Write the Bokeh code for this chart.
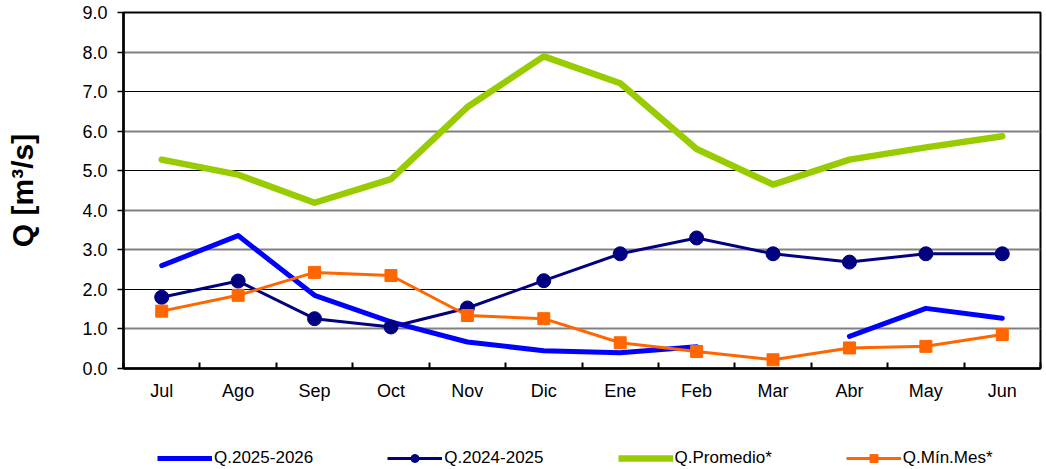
import math
from bokeh.plotting import figure
from bokeh.layouts import column
from bokeh.models import Range1d, FixedTicker, Grid, Legend, LegendItem, PrintfTickFormatter
from bokeh.embed import file_html
from bokeh.resources import INLINE

nan = float("nan")

months = ["Jul", "Ago", "Sep", "Oct", "Nov", "Dic", "Ene", "Feb", "Mar", "Abr", "May", "Jun"]
q_2025_2026 = [2.60, 3.36, 1.85, 1.18, 0.67, 0.45, 0.40, 0.55, nan, 0.81, 1.52, 1.27]
q_2024_2025 = [1.80, 2.21, 1.26, 1.05, 1.53, 2.22, 2.90, 3.30, 2.90, 2.69, 2.90, 2.90]
q_promedio = [5.28, 4.90, 4.19, 4.79, 6.61, 7.89, 7.21, 5.55, 4.65, 5.28, 5.59, 5.87]
q_min_mes = [1.45, 1.85, 2.43, 2.35, 1.34, 1.26, 0.65, 0.43, 0.22, 0.52, 0.56, 0.86]
series_labels = ["Q.2025-2026", "Q.2024-2025", "Q.Promedio*", "Q.Mín.Mes*"]
y_ticks = [0, 1, 2, 3, 4, 5, 6, 7, 8, 9]

n = len(months)
x_centers = [i + 0.5 for i in range(n)]
x_bounds = [float(i) for i in range(n + 1)]

FONT = "Liberation Sans"
W = 1044

p = figure(width=W, height=420, x_range=Range1d(0, n), y_range=Range1d(y_ticks[0], y_ticks[-1]),
           output_backend="svg", toolbar_location=None,
           min_border_left=123, min_border_right=4, min_border_top=12, min_border_bottom=52)

p.xgrid.visible = False
p.ygrid.visible = False
p.outline_line_color = "black"
p.outline_line_width = 2
p.background_fill_color = "white"
p.border_fill_color = "white"

gray_lines = [1, 3, 4, 6, 8]
dark_lines = [2, 5, 7]
p.add_layout(Grid(dimension=1, ticker=FixedTicker(ticks=gray_lines), grid_line_color="#808080", grid_line_width=2))
p.add_layout(Grid(dimension=1, ticker=FixedTicker(ticks=dark_lines), grid_line_color="black", grid_line_width=1.2))

# x axis
xa = p.xaxis[0]
xa.ticker = FixedTicker(ticks=x_centers, minor_ticks=x_bounds)
xa.major_label_overrides = {c: m for c, m in zip(x_centers, months)}
xa.major_tick_in = 0
xa.major_tick_out = 0
xa.minor_tick_in = 6
xa.minor_tick_out = 0
xa.minor_tick_line_color = "black"
xa.minor_tick_line_width = 2
xa.axis_line_color = "black"
xa.axis_line_width = 2.5
xa.major_label_standoff = 12
xa.major_label_text_font = FONT
xa.major_label_text_font_size = "18px"
xa.major_label_text_color = "black"

# y axis
ya = p.yaxis[0]
ya.ticker = FixedTicker(ticks=y_ticks, minor_ticks=[])
ya.formatter = PrintfTickFormatter(format="%.1f")
ya.major_tick_in = 0
ya.major_tick_out = 6
ya.major_tick_line_width = 1.5
ya.major_tick_line_color = "black"
ya.axis_line_color = "black"
ya.axis_line_width = 2.5
ya.major_label_standoff = 10
ya.major_label_text_font = FONT
ya.major_label_text_font_size = "18px"
ya.major_label_text_color = "black"
ya.axis_label = "Q [m³/s]"
ya.axis_label_text_font = FONT
ya.axis_label_text_font_size = "30px"
ya.axis_label_text_font_style = "bold"
ya.axis_label_text_color = "black"
ya.axis_label_standoff = 40

blue = "#0000FF"
navy = "#000080"
green = "#99CC00"
orange = "#FF6600"

p.line(x_centers, q_2025_2026, line_color=blue, line_width=5, line_join="round", line_cap="round")
p.line(x_centers, q_2024_2025, line_color=navy, line_width=3)
p.scatter(x_centers, q_2024_2025, marker="circle", size=14, fill_color=navy, line_color=navy)
p.line(x_centers, q_promedio, line_color=green, line_width=6.5, line_join="round", line_cap="round")
p.line(x_centers, q_min_mes, line_color=orange, line_width=3)
p.scatter(x_centers, q_min_mes, marker="square", size=12, fill_color=orange, line_color=orange)

# legend strip below the chart (same styles, no visible data)
lf = figure(width=W, height=49, x_range=Range1d(0, 1), y_range=Range1d(0, 1),
            output_backend="svg", toolbar_location=None,
            min_border_left=0, min_border_right=0, min_border_top=0, min_border_bottom=0)
lf.axis.visible = False
lf.grid.visible = False
lf.outline_line_color = None
lf.background_fill_color = "white"
lf.border_fill_color = "white"

l_blue = lf.line([nan], [nan], line_color=blue, line_width=5)
l_navy = lf.line([nan], [nan], line_color=navy, line_width=3)
m_navy = lf.scatter([nan], [nan], marker="circle", size=9, fill_color=navy, line_color=navy)
l_green = lf.line([nan], [nan], line_color=green, line_width=6.5)
l_orange = lf.line([nan], [nan], line_color=orange, line_width=3)
m_orange = lf.scatter([nan], [nan], marker="square", size=10, fill_color=orange, line_color=orange)

legend = Legend(items=[
    LegendItem(label=series_labels[0], renderers=[l_blue]),
    LegendItem(label=series_labels[1], renderers=[l_navy, m_navy]),
    LegendItem(label=series_labels[2], renderers=[l_green]),
    LegendItem(label=series_labels[3], renderers=[l_orange, m_orange]),
], orientation="horizontal", location=(34, 1))
legend.glyph_width = 55
legend.glyph_height = 20
legend.label_height = 20
legend.label_standoff = 2
legend.spacing = 74
legend.padding = 0
legend.margin = 0
legend.border_line_alpha = 0
legend.background_fill_alpha = 0
legend.label_text_font = FONT
legend.label_text_font_size = "17px"
legend.label_text_color = "black"
lf.add_layout(legend, "center")

layout = column(p, lf, spacing=0)
open("out.html", "w").write(file_html(layout, INLINE))
